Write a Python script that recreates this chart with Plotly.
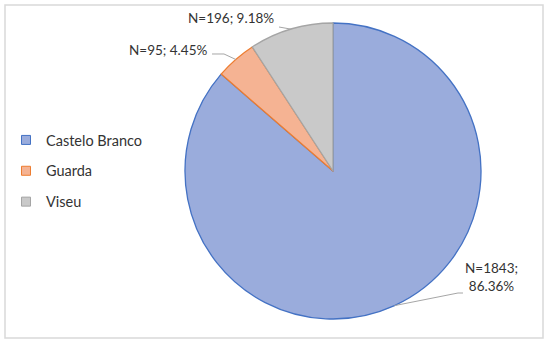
import math
import plotly.graph_objects as go

# Data
categories = ['Castelo Branco', 'Guarda', 'Viseu']
counts = [1843, 95, 196]

fill_colors = ['#9aacdc', '#f5b393', '#c9c9c9']
line_colors = ['#4472c4', '#ed7d31', '#a5a5a5']

W, H = 550, 345
# pie geometry in pixels (center, radius)
cx, cy, r = 333, 171, 148


def px(x):
    return x / W


def py(y):
    return 1 - y / H


total = sum(counts)
shares = [c / total for c in counts]
labels_txt = ['N=%d; %.2f%%' % (c, s * 100) for c, s in zip(counts, shares)]
labels_txt[0] = labels_txt[0].replace('; ', ';<br>')

# mid angle of each slice (clockwise from 12 o'clock)
mids = []
acc = 0
for s in shares:
    mids.append((acc + s / 2) * 2 * math.pi)
    acc += s

fig = go.Figure()

fig.add_trace(go.Pie(
    labels=categories, values=counts, sort=False, direction='clockwise', rotation=0,
    textinfo='none', hoverinfo='label+value+percent', showlegend=False,
    marker=dict(colors=fill_colors, line=dict(color=line_colors, width=1.3)),
    domain=dict(x=[px(cx - r), px(cx + r)], y=[py(cy + r), py(cy - r)]),
))

# legend entries (one group each so they can be spaced out)
for name, fc, lc in zip(categories, fill_colors, line_colors):
    fig.add_trace(go.Scatter(
        x=[None], y=[None], mode='markers', name=name, legendgroup=name,
        marker=dict(symbol='square', size=9, color=fc, line=dict(color=lc, width=1)),
    ))

# label placement: text centre, then leader points (label side first)
label_pos = [
    dict(x=491, y=277, pts=[(463, 293), (458, 293)]),
    dict(x=168, y=50, pts=[(212, 54), (224, 54)]),
    dict(x=231, y=18, pts=[(279, 27)]),
]

for txt, m, lp in zip(labels_txt, mids, label_pos):
    fig.add_annotation(x=px(lp['x']), y=py(lp['y']), xref='paper', yref='paper',
                       text=txt, showarrow=False, xanchor='center', yanchor='middle',
                       font=dict(family='Lato', size=13.5, color='#333333'))
    ex = cx + r * math.sin(m)
    ey = cy - r * math.cos(m)
    pts = lp['pts'] + [(ex, ey)]
    path = 'M ' + ' L '.join('%.4f,%.4f' % (px(a), py(b)) for a, b in pts)
    fig.add_shape(type='path', path=path, xref='paper', yref='paper',
                  line=dict(color='#a6a6a6', width=1))

# outer frame
fig.add_shape(type='rect', xref='paper', yref='paper',
              x0=px(5), x1=px(543), y0=py(338), y1=py(5),
              line=dict(color='#d9d9d9', width=1.5))

fig.update_layout(
    width=W, height=H,
    margin=dict(l=0, r=0, t=0, b=0),
    paper_bgcolor='white', plot_bgcolor='white',
    xaxis=dict(visible=False), yaxis=dict(visible=False),
    legend=dict(x=px(6), y=py(124), xanchor='left', yanchor='top',
                bgcolor='rgba(0,0,0,0)',
                tracegroupgap=9, itemclick=False,
                font=dict(family='Lato', size=14.5, color='#333333')),
)

fig.write_html('out.html', config={'displayModeBar': False},
               post_script="document.body.style.margin='0';")
